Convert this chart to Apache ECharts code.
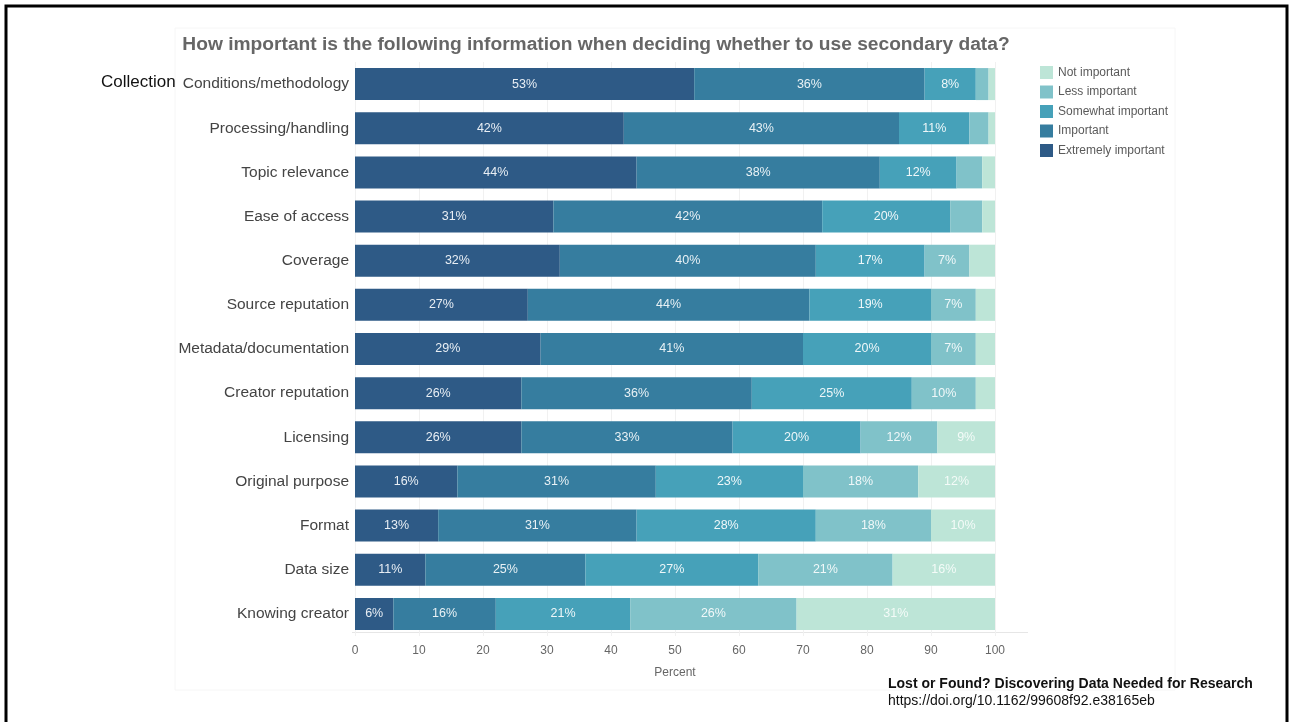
<!DOCTYPE html>
<html>
<head>
<meta charset="utf-8">
<script src="https://cdn.jsdelivr.net/npm/echarts@6/dist/echarts.min.js"></script>
<style>
html,body{margin:0;padding:0;background:#fff;}
#chart{width:1293px;height:722px;}
</style>
</head>
<body>
<div id="chart"></div>
<script>
const categories = [
  "Conditions/methodology", "Processing/handling", "Topic relevance", "Ease of access",
  "Coverage", "Source reputation", "Metadata/documentation", "Creator reputation",
  "Licensing", "Original purpose", "Format", "Data size", "Knowing creator"
];
const extremelyImportant = [53, 42, 44, 31, 32, 27, 29, 26, 26, 16, 13, 11, 6];
const important          = [36, 43, 38, 42, 40, 44, 41, 36, 33, 31, 31, 25, 16];
const somewhatImportant  = [8, 11, 12, 20, 17, 19, 20, 25, 20, 23, 28, 27, 21];
const lessImportant      = [2, 3, 4, 5, 7, 7, 7, 10, 12, 18, 18, 21, 26];
const notImportant       = [1, 1, 2, 2, 4, 3, 3, 3, 9, 12, 10, 16, 31];
const xTicks = [0, 10, 20, 30, 40, 50, 60, 70, 80, 90, 100];

const seriesDefs = [
  {name: "Extremely important", data: extremelyImportant, color: "#2e5a86", label: "#e8eef4"},
  {name: "Important", data: important, color: "#367d9f", label: "#e8f1f5"},
  {name: "Somewhat important", data: somewhatImportant, color: "#46a1b9", label: "#eef7f9"},
  {name: "Less important", data: lessImportant, color: "#80c2c9", label: "#f0f8f9"},
  {name: "Not important", data: notImportant, color: "#bde5d7", label: "#f4fbf8"}
];

const FONT = 'Liberation Sans, Arial, sans-serif';
const chart = echarts.init(document.getElementById('chart'), null, {renderer: 'canvas'});
const option = {
  backgroundColor: '#ffffff',
  animation: false,
  title: {
    text: 'How important is the following information when deciding whether to use secondary data?',
    left: 591, top: 30, textAlign: 'center',
    textStyle: {fontFamily: FONT, fontSize: 19.2, fontWeight: 'bold', color: '#666666'}
  },
  legend: {
    orient: 'vertical', left: 1035, top: 61,
    itemWidth: 13, itemHeight: 13, itemGap: 6.5,
    icon: 'rect',
    data: ["Not important", "Less important", "Somewhat important", "Important", "Extremely important"],
    textStyle: {fontFamily: FONT, fontSize: 12, color: '#5a5a5a'}
  },
  grid: {left: 355, right: 298, top: 62, bottom: 86, containLabel: false},
  xAxis: {
    type: 'value', min: 0, max: 100, interval: 10,
    name: 'Percent', nameLocation: 'middle', nameGap: 31,
    nameTextStyle: {fontFamily: FONT, fontSize: 12, color: '#666666'},
    axisLine: {show: false},
    axisTick: {show: false},
    axisLabel: {fontFamily: FONT, fontSize: 12, color: '#666666', margin: 9,
      formatter: v => (xTicks.indexOf(v) >= 0 ? String(v) : '')},
    splitLine: {show: true, lineStyle: {color: '#f1f1f1'}}
  },
  yAxis: {
    type: 'category', data: categories, inverse: true,
    axisLine: {show: false}, axisTick: {show: false},
    axisLabel: {fontFamily: FONT, fontSize: 15.5, color: '#444444', margin: 6, padding: [2, 0, 0, 0]},
    splitLine: {show: false}
  },
  series: seriesDefs.map(s => ({
    name: s.name, type: 'bar', stack: 'total', data: s.data, barWidth: 32,
    itemStyle: {color: s.color},
    label: {
      show: true, position: 'inside', color: s.label,
      fontFamily: FONT, fontSize: 12.5,
      formatter: p => (p.value >= 6 ? p.value + '%' : '')
    },
    emphasis: {disabled: true}
  })),
  graphic: [
    {type: 'rect', shape: {x: 175, y: 28, width: 1000, height: 662}, style: {fill: 'none', stroke: '#f6f6f6', lineWidth: 1}, silent: true, z: -1},
    {type: 'line', shape: {x1: 352, y1: 632.5, x2: 1028, y2: 632.5}, style: {stroke: '#e6e6e6', lineWidth: 1}, silent: true},
    {type: 'rect', shape: {x: 6, y: 6, width: 1281, height: 730}, style: {fill: 'none', stroke: '#000000', lineWidth: 3}, silent: true},
    {type: 'text', left: 101, top: 74, style: {text: 'Collection', fontFamily: FONT, fontSize: 17, fill: '#111111'}},
    {type: 'text', left: 888, top: 677, style: {text: 'Lost or Found? Discovering Data Needed for Research', fontFamily: FONT, fontSize: 14, fontWeight: 'bold', fill: '#111111'}},
    {type: 'text', left: 888, top: 694, style: {text: 'https://doi.org/10.1162/99608f92.e38165eb', fontFamily: FONT, fontSize: 14, fill: '#111111'}}
  ]
};
chart.setOption(option);
</script>
</body>
</html>
